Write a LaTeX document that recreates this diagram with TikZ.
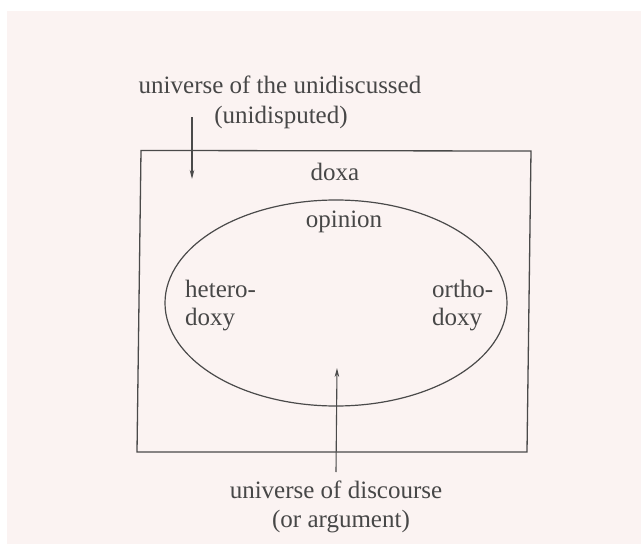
\documentclass[tikz,border=0pt]{standalone}
\usepackage{fontspec}
\setmainfont{Liberation Serif}
\usetikzlibrary{arrows.meta,shapes.geometric}
\definecolor{paper}{HTML}{FBF3F2}
\definecolor{ink}{HTML}{474747}
\definecolor{linec}{HTML}{4A4A4A}
\tikzset{
  lbl/.style={anchor=base, inner sep=0pt, text=ink, font=\fontsize{25}{30}\selectfont},
  lbll/.style={anchor=base west, inner sep=0pt, text=ink, font=\fontsize{25}{30}\selectfont},
  frame/.style={draw=linec, line width=1.3pt, line join=miter},
  ptr/.style={draw=linec, line width=1.1pt, -{Stealth[length=9pt,width=4.5pt]}}
}
\begin{document}
\begin{tikzpicture}[x=1pt,y=-1pt]
\useasboundingbox (0,0) rectangle (641,546);
\fill[white] (0,0) rectangle (641,546);
\fill[paper] (7,11) rectangle (641,544);
% frame (doxa)
\draw[frame] (141,150.5) -- (531,151) -- (527,452) -- (137,452) -- cycle;
% ellipse (opinion)
\node[draw=linec, line width=1.2pt, ellipse, minimum width=342pt, minimum height=206pt, inner sep=0pt] (opin) at (336,303) {};
% texts
\node[lbl] (u1) at (280,93) {universe of the unidiscussed};
\node[lbl] (u2) at (281,123) {(unidisputed)};
\node[lbl] (doxa) at (335,180) {doxa};
\node[lbl] (op) at (344,227) {opinion};
\node[lbll] (het1) at (185,297) {hetero-};
\node[lbll] (het2) at (185,325) {doxy};
\node[lbll] (orth1) at (432,297) {ortho-};
\node[lbll] (orth2) at (432,325) {doxy};
\node[lbl] (d1) at (336,498) {universe of discourse};
\node[lbl] (d2) at (341,527) {(or argument)};
% arrows
\coordinate (a1s) at (192,117);
\coordinate (a1e) at (192,179);
\coordinate (a2s) at (336,472);
\coordinate (a2e) at (337,368);
\draw[ptr] (a1s) -- (a1e);
\draw[ptr] (a2s) -- (a2e);
\end{tikzpicture}
\end{document}
